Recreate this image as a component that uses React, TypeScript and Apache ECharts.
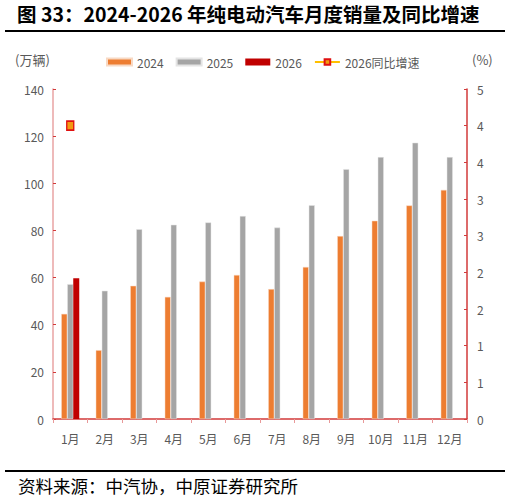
import { useRef, useEffect } from "react";
import * as echarts from "echarts";

const months = ["1月", "2月", "3月", "4月", "5月", "6月", "7月", "8月", "9月", "10月", "11月", "12月"];
const sales2024 = [44.6, 29.2, 56.5, 51.8, 58.3, 61.1, 55.1, 64.5, 77.6, 84.1, 90.6, 97.2];
const sales2025 = [57.2, 54.4, 80.5, 82.4, 83.4, 86.1, 81.2, 90.7, 106.0, 111.1, 117.2, 111.1];
const sales2026 = [59.7, null, null, null, null, null, null, null, null, null, null, null];
const growth2026 = [4.0, null, null, null, null, null, null, null, null, null, null, null];

const FONT = "'Liberation Sans Narrow', 'Noto Sans CJK SC', sans-serif";
const LABEL = "#595959";
const AXIS_RED = "#D23A3A";

export default function App() {
  const chartRef = useRef<HTMLDivElement>(null);

  useEffect(() => {
    if (!chartRef.current) return;
    const chart = echarts.init(chartRef.current, null, { renderer: "svg" });

    chart.setOption({
      animation: false,
      backgroundColor: "#fff",
      textStyle: { fontFamily: FONT },
      graphic: [
        {
          type: "text",
          left: 17,
          top: 4,
          style: {
            text: "图 33：2024-2026 年纯电动汽车月度销量及同比增速",
            fontSize: 19.5,
            fontWeight: "bold",
            fontFamily: "'Noto Sans CJK SC', sans-serif",
            fill: "#000",
          },
        },
        { type: "rect", shape: { x: 5, y: 30, width: 500, height: 2 }, style: { fill: "#000" } },
        { type: "rect", shape: { x: 5, y: 470, width: 500, height: 2 }, style: { fill: "#000" } },
        {
          type: "text",
          left: 18,
          top: 477,
          style: {
            text: "资料来源：中汽协，中原证券研究所",
            fontSize: 17.5,
            fontFamily: "'Noto Sans CJK SC', sans-serif",
            fill: "#000",
          },
        },
        {
          type: "text",
          left: 15,
          top: 53,
          style: { text: "(万辆)", fontSize: 13, fontFamily: FONT, fill: LABEL },
        },
        {
          type: "text",
          left: 472,
          top: 53,
          style: { text: "(%)", fontSize: 13, fontFamily: FONT, fill: LABEL },
        },
      ],
      legend: {
        left: 101,
        top: 51,
        itemWidth: 25,
        itemHeight: 7,
        itemGap: 12,
        textStyle: { fontSize: 12, color: LABEL, fontFamily: FONT },
        data: [
          { name: "2024", icon: "rect" },
          { name: "2025", icon: "rect" },
          { name: "2026", icon: "rect" },
          { name: "2026同比增速" },
        ],
      },
      grid: { left: 53, right: 43, top: 89, bottom: 84 },
      xAxis: {
        type: "category",
        data: months,
        axisLine: { lineStyle: { color: AXIS_RED, width: 1.5 } },
        axisTick: { show: true, length: 4, lineStyle: { color: "#E89999" } },
        axisLabel: { color: LABEL, fontSize: 12, margin: 13, fontFamily: FONT },
      },
      yAxis: [
        {
          type: "value",
          min: 0,
          max: 140,
          interval: 20,
          axisLine: { show: true, lineStyle: { color: "#E8A3A3", width: 1.5 } },
          axisTick: { show: true, inside: true, length: 3, lineStyle: { color: AXIS_RED } },
          splitLine: { show: false },
          axisLabel: { color: LABEL, fontSize: 12, margin: 9, fontFamily: FONT },
        },
        {
          type: "value",
          min: 0,
          max: 4.5,
          interval: 0.5,
          position: "right",
          axisLine: { show: true, lineStyle: { color: AXIS_RED, width: 1.5 } },
          axisTick: { show: true, inside: true, length: 3, lineStyle: { color: AXIS_RED } },
          splitLine: { show: false },
          axisLabel: {
            color: LABEL,
            fontSize: 12,
            margin: 10,
            fontFamily: FONT,
            formatter: (v: number) => String(Math.round(v)),
          },
        },
      ],
      series: [
        {
          name: "2024",
          type: "bar",
          data: sales2024,
          barWidth: 6,
          barGap: "0%",
          itemStyle: { color: "#ED7D31", borderColor: "#F8D9C4", borderWidth: 0.5 },
        },
        {
          name: "2025",
          type: "bar",
          data: sales2025,
          barWidth: 6,
          barGap: "0%",
          itemStyle: { color: "#A5A5A5", borderColor: "#E4E4E4", borderWidth: 0.5 },
        },
        {
          name: "2026",
          type: "bar",
          data: sales2026,
          barWidth: 6,
          barGap: "0%",
          itemStyle: { color: "#C00000" },
        },
        {
          name: "2026同比增速",
          type: "line",
          yAxisIndex: 1,
          data: growth2026,
          symbol: "rect",
          symbolSize: [7, 9],
          lineStyle: { color: "#FFC000", width: 2 },
          itemStyle: { color: "#F39A12", borderColor: "#E01010", borderWidth: 1.5 },
        },
      ],
    });

    return () => {
      chart.dispose();
    };
  }, []);

  return (
    <div
      ref={chartRef}
      style={{ position: "absolute", left: 0, top: 0, width: 510, height: 503 }}
    />
  );
}
